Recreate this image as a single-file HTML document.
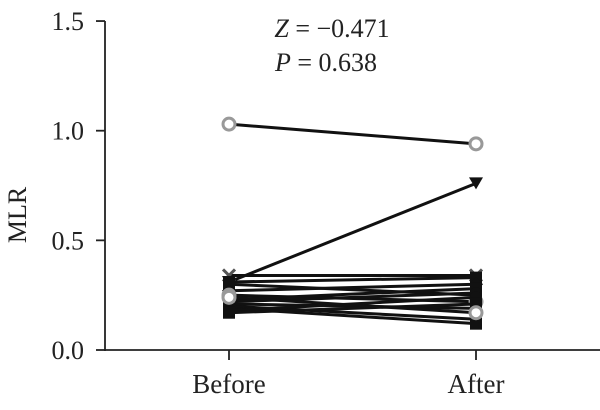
<!DOCTYPE html>
<html><head><meta charset="utf-8"><style>
body{margin:0;background:#fff}
svg text{font-family:"Liberation Serif",serif;fill:#222}
</style></head><body>
<svg width="600" height="405" viewBox="0 0 600 405" xmlns="http://www.w3.org/2000/svg">
<g id="axes"></g><g id="marks"></g>
<text x="332" y="37" font-size="26" text-anchor="middle"><tspan font-style="italic">Z</tspan> = −0.471</text>
<text x="326" y="71" font-size="26" text-anchor="middle"><tspan font-style="italic">P</tspan> = 0.638</text>
<text transform="translate(26,215) rotate(-90)" font-size="26" text-anchor="middle">MLR</text>
</svg>
<script>
const categories=["Before","After"];
const yTicks=[0,0.5,1.0,1.5];
const yTickLabels=["0.0","0.5","1.0","1.5"];
const beforeVals=[1.03,0.31,0.34,0.31,0.30,0.27,0.25,0.23,0.22,0.21,0.20,0.19,0.18,0.17,0.24];
const afterVals=[0.94,0.76,0.34,0.33,0.25,0.30,0.22,0.28,0.26,0.19,0.14,0.12,0.24,0.21,0.17];
const markers=["circle","tri","x","sq","sq","dia","circleg","sq","dot","sq","gray","sq","dot","sq","circleg"];
const NS="http://www.w3.org/2000/svg";
const y=v=>350-v*219.3;
const x=i=>229+i*247;
const ax=document.getElementById('axes'),mk=document.getElementById('marks');
function el(t,a,p){const e=document.createElementNS(NS,t);for(const k in a)e.setAttribute(k,a[k]);p.appendChild(e);return e;}
let l=el('line',{x1:105,y1:21,x2:105,y2:351,stroke:'#222','stroke-width':1.8},ax);


l=el('line',{x1:104,y1:350,x2:600,y2:350,stroke:'#222','stroke-width':1.8},ax);


yTicks.forEach((v,i)=>{
 const t=el('line',{x1:96,x2:105,y1:y(v),y2:y(v),stroke:'#222','stroke-width':1.8},ax);
 
 
 const tx=el('text',{x:84,y:y(v)+9,'font-size':26,'text-anchor':'end'},ax);tx.textContent=yTickLabels[i];
 
 
});
categories.forEach((c,i)=>{
 const t=el('line',{x1:x(i),x2:x(i),y1:350,y2:360,stroke:'#222','stroke-width':1.8},ax);
 
 
 const tx=el('text',{x:x(i),y:393,'font-size':27,'text-anchor':'middle'},ax);tx.textContent=c;
 
 
});
function marker(type,cx,cy){
 let e;
 if(type=='circle'||type=='circleg')e=el('circle',{cx,cy,r:6,fill:'#fff',stroke:'#999','stroke-width':3},mk);
 else if(type=='tri')e=el('polygon',{points:`${cx-7},${cy-6} ${cx+7},${cy-6} ${cx},${cy+6}`,fill:'#111'},mk);
 else if(type=='x')e=el('path',{d:`M${cx-6},${cy-6}L${cx+6},${cy+6}M${cx+6},${cy-6}L${cx-6},${cy+6}`,stroke:'#555','stroke-width':3},mk);
 else if(type=='dia')e=el('polygon',{points:`${cx},${cy-7} ${cx+7},${cy} ${cx},${cy+7} ${cx-7},${cy}`,fill:'#111'},mk);
 else if(type=='dot')e=el('circle',{cx,cy,r:6,fill:'#111'},mk);
 else if(type=='gray')e=el('rect',{x:cx-6,y:cy-6,width:12,height:12,fill:'#ddd'},mk);
 else e=el('rect',{x:cx-6,y:cy-6,width:12,height:12,fill:'#111'},mk);
 
 
}
beforeVals.forEach((b,i)=>{
 const a=afterVals[i];
 const ln=el('line',{x1:x(0),y1:y(b),x2:x(1),y2:y(a),stroke:'#111','stroke-width':3},mk);
 
 
 marker(markers[i],x(0),y(b));marker(markers[i],x(1),y(a));
});
</script>
</body></html>
